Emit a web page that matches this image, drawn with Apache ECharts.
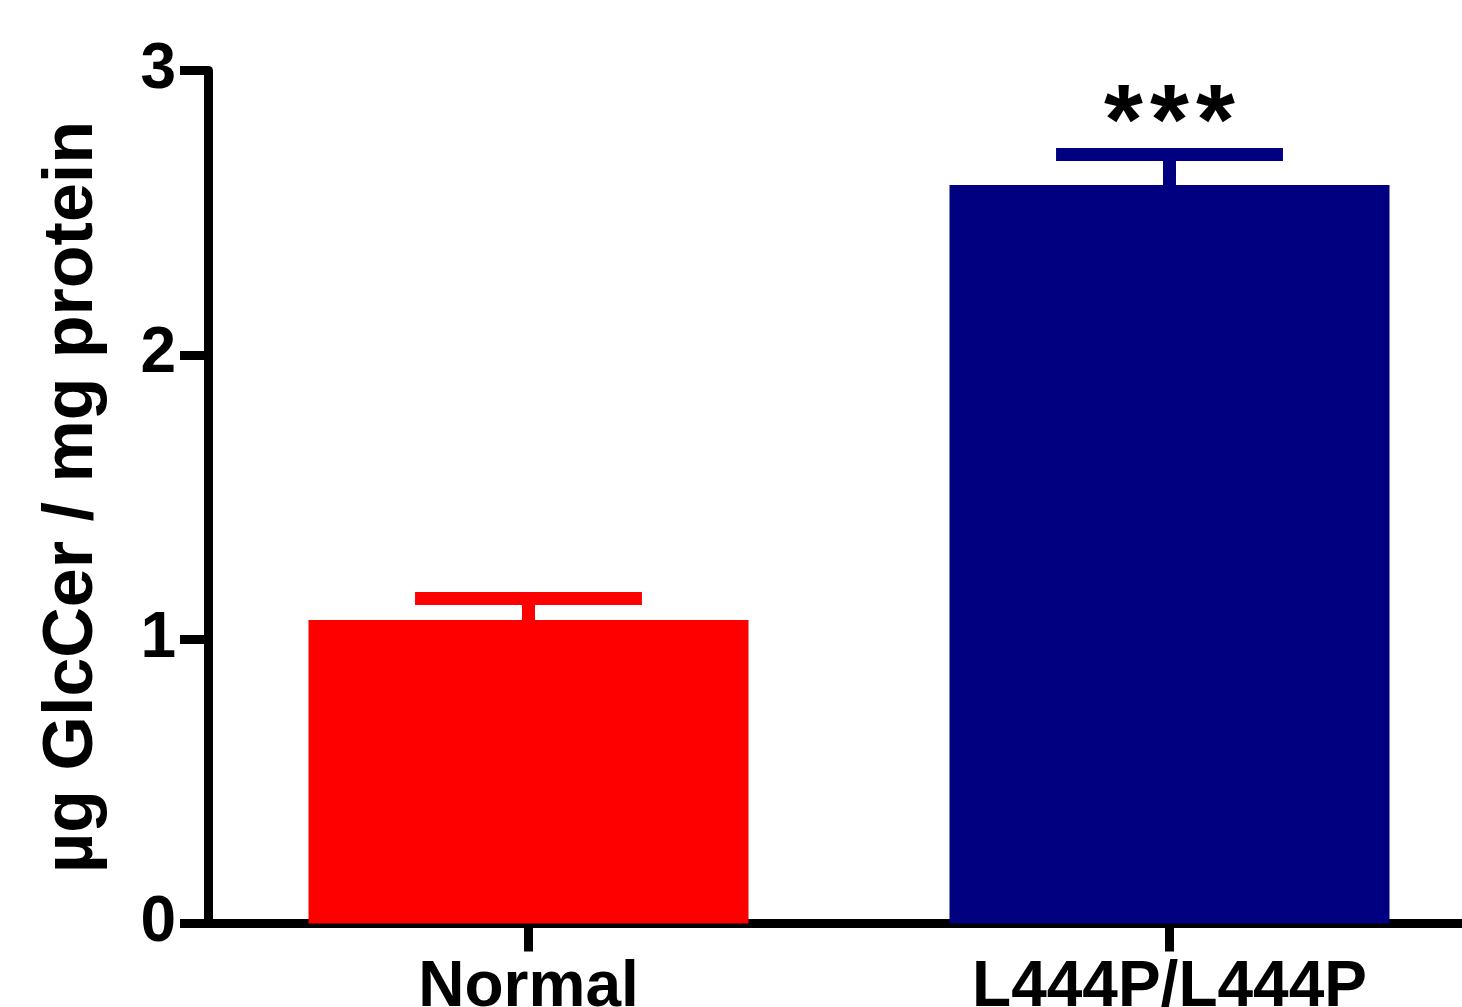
<!DOCTYPE html>
<html>
<head>
<meta charset="utf-8">
<script src="https://cdn.jsdelivr.net/npm/echarts@6/dist/echarts.min.js"></script>
<style>
html,body{margin:0;padding:0;background:#fff;}
#chart{width:1462px;height:1007px;}
</style>
</head>
<body>
<div id="chart"></div>
<script>
var categories = ['Normal', 'L444P/L444P'];
var means = [1.067, 2.597];
var errors = [0.076, 0.108];
var significance = ['', '***'];
var barColors = ['#FF0000', '#000080'];
var yTicks = [0, 1, 2, 3];

var FONT = '"Liberation Sans", Arial, sans-serif';

var chart = echarts.init(document.getElementById('chart'), null, {renderer: 'canvas'});

var errData = categories.map(function (c, i) {
  return [i, means[i], means[i] + errors[i]];
});

chart.setOption({
  backgroundColor: '#ffffff',
  animation: false,
  grid: {left: 208, top: 70.5, width: 1282, height: 853, containLabel: false, outerBoundsMode: 'none'},
  xAxis: {
    type: 'category',
    data: categories,
    axisLine: {show: true, lineStyle: {color: '#000', width: 9}},
    axisTick: {show: true, alignWithLabel: true, length: 28, lineStyle: {color: '#000', width: 9}},
    axisLabel: {color: '#000', fontFamily: FONT, fontWeight: 'bold', fontSize: 64, margin: 33}
  },
  yAxis: {
    type: 'value',
    min: yTicks[0],
    max: yTicks[yTicks.length - 1],
    interval: 1,
    name: 'µg GlcCer / mg protein',
    nameLocation: 'middle',
    nameRotate: 90,
    nameGap: 100,
    nameTextStyle: {color: '#000', fontFamily: FONT, fontWeight: 'bold', fontSize: 70},
    splitLine: {show: false},
    axisLine: {show: true, lineStyle: {color: '#000', width: 9}},
    axisTick: {show: true, length: 28, lineStyle: {color: '#000', width: 9}},
    axisLabel: {color: '#000', fontFamily: FONT, fontWeight: 'bold', fontSize: 64, margin: 32}
  },
  series: [
    {
      type: 'bar',
      data: means.map(function (v, i) { return {value: v, itemStyle: {color: barColors[i]}}; }),
      barWidth: 440,
      z: 2
    },
    {
      type: 'custom',
      z: 3,
      data: errData,
      renderItem: function (params, api) {
        var i = api.value(0);
        var base = api.coord([i, api.value(1)]);
        var top = api.coord([i, api.value(2)]);
        var band = api.size([1, 0])[0];
        var half = band * 0.177;
        var color = barColors[i];
        var children = [
          {type: 'rect', shape: {x: base[0] - 6.5, y: top[1], width: 13, height: base[1] - top[1]}, style: {fill: color}},
          {type: 'rect', shape: {x: top[0] - half, y: top[1] - 6.5, width: half * 2, height: 13}, style: {fill: color}}
        ];
        var s = significance[i];
        if (s) {
          var pitch = 46;
          for (var k = 0; k < s.length; k++) {
            children.push({
              type: 'text',
              style: {
                text: s.charAt(k), x: top[0] + (k - (s.length - 1) / 2) * pitch, y: top[1] - 28,
                fill: '#000', font: 'bold 100px ' + FONT,
                textAlign: 'center', textVerticalAlign: 'middle'
              }
            });
          }
        }
        return {type: 'group', children: children};
      }
    }
  ]
});
</script>
</body>
</html>
